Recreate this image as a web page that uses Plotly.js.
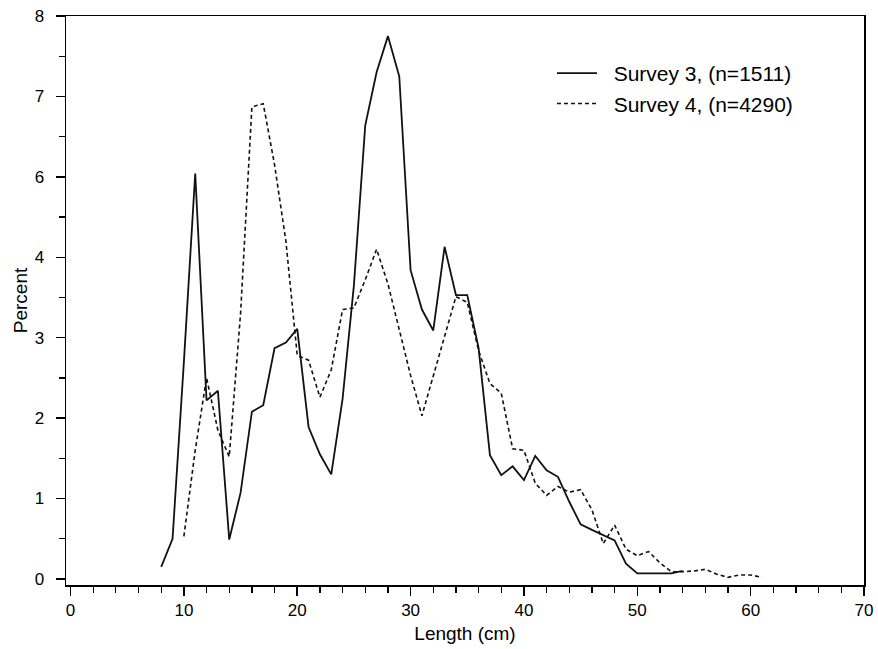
<!DOCTYPE html>
<html>
<head>
<meta charset="utf-8">
<script src="https://cdn.plot.ly/plotly-3.0.1.min.js"></script>
<style>html,body{margin:0;padding:0;background:#fff;}#chart{width:878px;height:649px;}</style>
</head>
<body>
<div id="chart"></div>
<script>
// Length classes (cm)
var lengthS3 = [8,9,10,11,12,13,14,15,16,17,18,19,20,21,22,23,24,25,26,27,28,29,30,31,32,33,34,35,36,37,38,39,40,41,42,43,44,45,46,47,48,49,50,51,52,53,54];
// Survey 3 values, in the axis's printed tick positions (0..7 steps)
var percentS3 = [0.15,0.50,2.70,5.04,2.22,2.34,0.49,1.07,2.08,2.16,2.87,2.94,3.11,1.89,1.55,1.30,2.24,3.65,5.64,6.30,6.75,6.25,3.84,3.35,3.09,4.13,3.53,3.53,2.87,1.54,1.29,1.40,1.23,1.53,1.35,1.27,0.96,0.68,0.61,0.55,0.48,0.19,0.07,0.07,0.07,0.07,0.10];

var lengthS4 = [10,11,12,13,14,15,16,17,18,19,20,21,22,23,24,25,26,27,28,29,30,31,32,33,34,35,36,37,38,39,40,41,42,43,44,45,46,47,48,49,50,51,52,53,54,55,56,57,58,59,60,61];
var percentS4 = [0.53,1.60,2.50,1.85,1.52,3.30,5.87,5.91,5.15,4.20,2.78,2.72,2.26,2.60,3.35,3.37,3.72,4.10,3.67,3.09,2.53,2.03,2.53,3.00,3.51,3.44,2.84,2.43,2.31,1.62,1.60,1.19,1.04,1.15,1.08,1.11,0.86,0.44,0.67,0.37,0.29,0.34,0.20,0.09,0.09,0.10,0.12,0.06,0.02,0.05,0.05,0.02];

var seriesNames = ["Survey 3, (n=1511)", "Survey 4, (n=4290)"];

var xTickVals = [0,10,20,30,40,50,60,70];
var xTickText = ["0","10","20","30","40","50","60","70"];
var yTickVals = [0,1,2,3,4,5,6,7];
var yTickText = ["0","1","2","3","4","6","7","8"];

var xMinor = [];
for (var i = 2; i < 70; i += 2) { if (i % 10 !== 0) xMinor.push(i); }
var yMinor = [];
for (var j = 0; j < 7; j++) { yMinor.push(j + 0.5); }

var FONT = "Liberation Sans, Arial, Helvetica, sans-serif";
var PAD = "\u00A0\u00A0";

var traces = [
  {x: lengthS3, y: percentS3, name: PAD + seriesNames[0], type: "scatter", mode: "lines",
   line: {color: "#111", width: 1.8}},
  {x: lengthS4, y: percentS4, name: PAD + seriesNames[1], type: "scatter", mode: "lines",
   line: {color: "#111", width: 1.6, dash: "4px,3px"}}
];

var layout = {
  width: 878, height: 649,
  margin: {l: 66, r: 14, t: 16, b: 64},
  paper_bgcolor: "#fff", plot_bgcolor: "#fff",
  font: {family: FONT, color: "#000", size: 16},
  showlegend: true,
  legend: {x: 0.609, y: 0.935, xanchor: "left", yanchor: "top",
           font: {family: FONT, size: 21, color: "#000"},
           bgcolor: "rgba(0,0,0,0)", tracegroupgap: 0, itemwidth: 40},
  xaxis: {
    range: [-0.40, 70], tickmode: "array", tickvals: xTickVals, ticktext: xTickText,
    ticks: "outside", ticklen: 9, tickwidth: 1.5, tickcolor: "#000",
    showline: true, linecolor: "#000", linewidth: 1.5, mirror: true,
    showgrid: false, zeroline: false,
    tickfont: {family: FONT, size: 17, color: "#000"},
    minor: {tickmode: "array", tickvals: xMinor, ticks: "outside", ticklen: 6, tickwidth: 1.2, tickcolor: "#000", showgrid: false},
    title: {text: "Length (cm)", font: {family: FONT, size: 19, color: "#000"}, standoff: 8}
  },
  yaxis: {
    range: [-0.075, 7], tickmode: "array", tickvals: yTickVals, ticktext: yTickText,
    ticks: "outside", ticklen: 9, tickwidth: 1.5, tickcolor: "#000",
    showline: true, linecolor: "#000", linewidth: 1.5, mirror: true,
    showgrid: false, zeroline: false,
    tickfont: {family: FONT, size: 17, color: "#000"},
    ticklabelstandoff: 8,
    minor: {tickmode: "array", tickvals: yMinor, ticks: "outside", ticklen: 6, tickwidth: 1.2, tickcolor: "#000", showgrid: false},
    title: {text: "Percent", font: {family: FONT, size: 19, color: "#000"}, standoff: 2}
  }
};

Plotly.newPlot("chart", traces, layout, {displayModeBar: false, staticPlot: true});
</script>
</body>
</html>
